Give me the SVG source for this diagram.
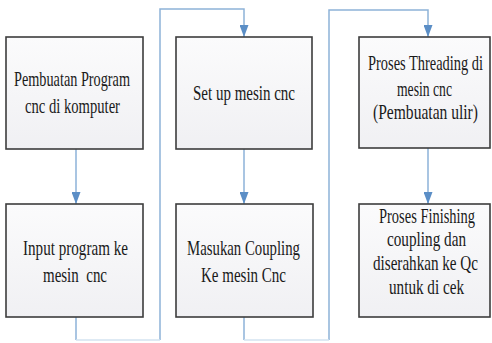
<svg xmlns="http://www.w3.org/2000/svg" width="492" height="343" viewBox="0 0 492 343">
<style>
.box{fill:url(#bg);stroke:#3d3d3d;stroke-width:1.6}
.t{font-family:"Liberation Serif","Times New Roman",serif;font-size:21px;fill:#1a1a1a;text-anchor:middle;white-space:pre}
.c{fill:none;stroke:#8db2d8;stroke-width:1.5}
.f{fill:none;stroke:#d3e3f0;stroke-width:1.5}
</style>
<defs>
<linearGradient id="bg" x1="0" y1="0" x2="0" y2="1">
<stop offset="0" stop-color="#fbfbfc"/>
<stop offset="1" stop-color="#f0f0f3"/>
</linearGradient>
<marker id="ah" markerUnits="userSpaceOnUse" markerWidth="12" markerHeight="9" refX="12" refY="4.5" orient="auto">
<path d="M0,0 L12,4.5 L0,9 z" fill="#5b8ec6"/>
</marker>
</defs>
<rect width="492" height="343" fill="#ffffff"/>
<g id="connectors">
<path class="c" d="M76,149 V204" marker-end="url(#ah)"/>
<path class="c" d="M160,340 V9 H244 V37" marker-end="url(#ah)"/>
<path class="c" d="M76,317 V340"/>
<path class="f" d="M76,340 H160"/>
<path class="c" d="M244,149 V204" marker-end="url(#ah)"/>
<path class="c" d="M329,340 V10 H428 V37" marker-end="url(#ah)"/>
<path class="c" d="M244,317 V340"/>
<path class="f" d="M244,340 H329"/>
<path class="c" d="M428,148 V204" marker-end="url(#ah)"/>
</g>
<g id="node1">
<rect class="box" x="6" y="37" width="137" height="112"/>
<text class="t" transform="translate(72,86) scale(0.72,1)" textLength="161.1" lengthAdjust="spacingAndGlyphs">Pembuatan Program</text>
<text class="t" transform="translate(72.5,113) scale(0.72,1)" textLength="131.9" lengthAdjust="spacingAndGlyphs">cnc di komputer</text>
</g>
<g id="node2">
<rect class="box" x="176" y="37" width="136" height="112"/>
<text class="t" transform="translate(244,100) scale(0.72,1)" textLength="141.7" lengthAdjust="spacingAndGlyphs">Set up mesin cnc</text>
</g>
<g id="node3">
<rect class="box" x="359" y="37" width="131" height="111"/>
<text class="t" transform="translate(425.5,70) scale(0.72,1)" textLength="159.7" lengthAdjust="spacingAndGlyphs">Proses Threading di</text>
<text class="t" transform="translate(424.5,96) scale(0.72,1)" textLength="76.4" lengthAdjust="spacingAndGlyphs">mesin cnc</text>
<text class="t" transform="translate(425.5,119) scale(0.72,1)" textLength="145.8" lengthAdjust="spacingAndGlyphs">(Pembuatan ulir)</text>
</g>
<g id="node4">
<rect class="box" x="6" y="204" width="137" height="113"/>
<text class="t" transform="translate(75.5,255) scale(0.72,1)" textLength="145.8" lengthAdjust="spacingAndGlyphs">Input program ke</text>
<text class="t" transform="translate(75,282) scale(0.72,1)" textLength="88.9" lengthAdjust="spacingAndGlyphs">mesin  cnc</text>
</g>
<g id="node5">
<rect class="box" x="176" y="204" width="137" height="113"/>
<text class="t" transform="translate(243.5,255) scale(0.72,1)" textLength="156.9" lengthAdjust="spacingAndGlyphs">Masukan Coupling</text>
<text class="t" transform="translate(243.5,282) scale(0.72,1)" textLength="118.1" lengthAdjust="spacingAndGlyphs">Ke mesin Cnc</text>
</g>
<g id="node6">
<rect class="box" x="359" y="204" width="131" height="113"/>
<text class="t" transform="translate(427,223) scale(0.72,1)" textLength="133.3" lengthAdjust="spacingAndGlyphs">Proses Finishing</text>
<text class="t" transform="translate(426.5,246) scale(0.72,1)" textLength="109.7" lengthAdjust="spacingAndGlyphs">coupling dan</text>
<text class="t" transform="translate(425.5,270) scale(0.72,1)" textLength="145.8" lengthAdjust="spacingAndGlyphs">diserahkan ke Qc</text>
<text class="t" transform="translate(426.5,294) scale(0.72,1)" textLength="104.2" lengthAdjust="spacingAndGlyphs">untuk di cek</text>
</g>
</svg>
